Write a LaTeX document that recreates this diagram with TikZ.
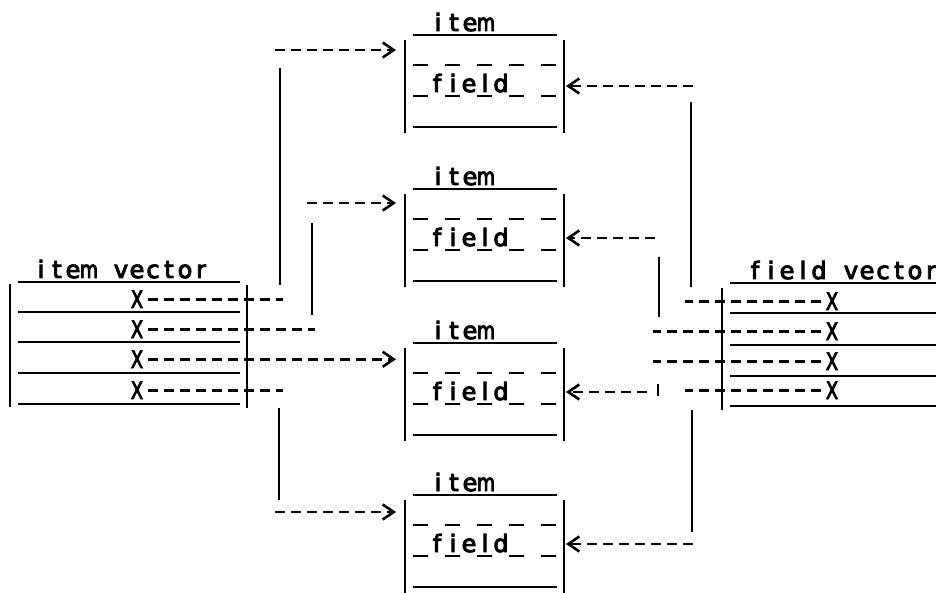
\documentclass[tikz,border=0pt]{standalone}
\usepackage{fontspec}
\usepackage{graphicx}
\newfontfamily\tfont{DejaVu Sans}[FakeBold=4]
\newcommand\mycell[2][1]{\makebox[16pt][c]{\scalebox{#1}[1]{#2}}}
\usetikzlibrary{arrows.meta}
\begin{document}
\begin{tikzpicture}[x=1pt,y=-1pt,
  solidline/.style={line width=2.8pt},
  dashline/.style={line width=2.7pt, dash pattern=on 10pt off 6pt, dash phase=13pt},
  arrowline/.style={dashline, -{Straight Barb[length=11pt,width=15pt,line width=2.6pt]}},
  lbl/.style={font=\tfont\fontsize{24}{24}\selectfont, inner sep=0pt, anchor=base},
]
\useasboundingbox (0,0) rectangle (936,593);

% ---------- item boxes ----------
\foreach \i/\T/\yin/\yout in {1/35/50/86, 2/189/203/238, 3/343/360/392, 4/495/512/544}{
  \node[lbl] (item\i) at (462,\T-4) {\mycell{i}\mycell{t}\mycell{e}\mycell[0.78]{m}};
  \draw[solidline] (413,\T) -- (557,\T);
  \draw[solidline] (405,\T+5) -- (405,\T+98);
  \draw[solidline] (564,\T+5) -- (564,\T+98);
  \foreach \k in {0,1,2,3,4}{
    \draw[solidline] (413+32*\k,\T+30) -- ++(15,0);
    \draw[solidline] (413+32*\k,\T+61) -- ++(15,0);
  }
  \node[lbl] (field\i) at (469,\T+57) {\mycell{f}\mycell{i}\mycell{e}\mycell{l}\mycell{d}};
  \draw[solidline] (413,\T+92) -- (557,\T+92);
  \coordinate (in\i) at (396,\yin);
  \coordinate (out\i) at (566,\yout);
}

% ---------- item vector ----------
\node[lbl] (iv) at (121,278) {\mycell{i}\mycell{t}\mycell{e}\mycell[0.78]{m}\mycell{}\mycell{v}\mycell{e}\mycell{c}\mycell{t}\mycell{o}\mycell{r}};
\foreach \y in {282,312,342,373,404}{\draw[solidline] (18,\y) -- (240,\y);}
\draw[solidline] (10,284) -- (10,407);
\draw[solidline] (247,285) -- (247,408);
\foreach \r/\y in {1/308,2/338,3/368,4/399}{\node[lbl] (ix\r) at (137,\y) {\mycell[0.75]{X}};}

% ---------- field vector ----------
\node[lbl] (fv) at (843,279) {\mycell{f}\mycell{i}\mycell{e}\mycell{l}\mycell{d}\mycell{}\mycell{v}\mycell{e}\mycell{c}\mycell{t}\mycell{o}\mycell{r}};
\foreach \y in {283,313,345,376,406}{\draw[solidline] (730,\y) -- (936,\y);}
\draw[solidline] (722,288) -- (722,410);
\foreach \r/\y in {1/310,2/340,3/370,4/399}{\node[lbl] (fx\r) at (832,\y) {\mycell[0.75]{X}};}

% ---------- left connectors ----------
\coordinate (l1) at (283,0);
\coordinate (l2) at (315,0);
\coordinate (l4) at (283,0);
\draw[dashline] (ix1.east) -- (ix1.east -| l1);
\draw[solidline] (280,285) -- (280,68);
\coordinate (s1) at (272,50);
\draw[arrowline] (s1) -- (in1);

\draw[dashline] (ix2.east) -- (ix2.east -| l2);
\draw[solidline] (312,315) -- (312,223);
\coordinate (s2) at (304,203);
\draw[arrowline] (s2) -- (in2);

\draw[arrowline] (ix3.east) -- (ix3.east -| in3);

\draw[dashline] (ix4.east) -- (ix4.east -| l4);
\draw[solidline] (279,408) -- (279,500);
\coordinate (s4) at (272,512);
\draw[arrowline] (s4) -- (in4);

% ---------- right connectors ----------
\coordinate (r1) at (685,0);
\coordinate (r2) at (653,0);
\coordinate (r3) at (653,0);
\coordinate (r4) at (685,0);
\draw[dashline] (fx1.west) -- (fx1.west -| r1);
\draw[solidline] (691,287) -- (691,102);
\coordinate (t1) at (696,86);
\draw[arrowline] (t1) -- (out1);

\draw[dashline] (fx2.west) -- (fx2.west -| r2);
\draw[solidline] (659,317) -- (659,257);
\coordinate (t2) at (658,238);
\draw[arrowline] (t2) -- (out2);

\draw[dashline] (fx3.west) -- (fx3.west -| r3);
\draw[solidline] (658,384) -- (658,396);
\coordinate (t3) at (650,392);
\draw[arrowline] (t3) -- (out3);

\draw[dashline] (fx4.west) -- (fx4.west -| r4);
\draw[solidline] (692,410) -- (692,532);
\coordinate (t4) at (696,544);
\draw[arrowline] (t4) -- (out4);
\end{tikzpicture}
\end{document}
